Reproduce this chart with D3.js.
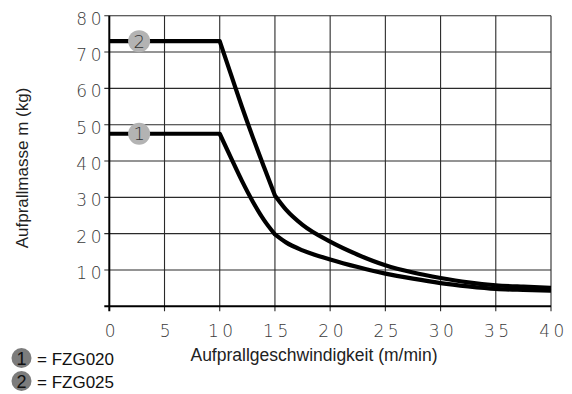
<!DOCTYPE html>
<html>
<head>
<meta charset="utf-8">
<script src="https://cdn.jsdelivr.net/npm/d3@7"></script>
<style>
  html, body { margin: 0; padding: 0; background: #fff; }
  svg { display: block; }
</style>
</head>
<body>
<svg id="chart" width="572" height="394"></svg>
<script>
// ---- data ----
const speed   = [0, 10, 11, 12, 13, 14, 15, 16, 17.5, 20, 22.5, 25, 27.5, 30, 32.5, 35, 37.5, 40];
const fzg020  = [47.5, 47.5, 41.0, 34.6, 28.8, 23.8, 19.8, 17.6, 15.4, 12.9, 10.8, 9.0, 7.6, 6.4, 5.5, 4.8, 4.5, 4.3];
const fzg025  = [73, 73, 64.0, 55.0, 46.5, 38.4, 30.5, 26.6, 22.4, 17.8, 14.2, 11.3, 9.3, 7.8, 6.6, 5.8, 5.4, 5.1];
const seriesNames = ["FZG020", "FZG025"];
const seriesIds = ["1", "2"];
const breakpoints = [10, 15];
const xTicks = [0, 5, 10, 15, 20, 25, 30, 35, 40];
const yTicks = [10, 20, 30, 40, 50, 60, 70, 80];
const yGrid = [0, 10, 20, 30, 40, 50, 60, 70, 80];
const markerX = 2.7;
const xTitle = "Aufprallgeschwindigkeit (m/min)";
const yTitle = "Aufprallmasse m (kg)";

const svg = d3.select("#chart");
const x = d3.scaleLinear().domain([0, 40]).range([109.3, 551]);
const y = d3.scaleLinear().domain([0, 80]).range([306.3, 15.7]);

// grid
const g = svg.append("g");
g.selectAll("line.h").data(yGrid.slice(1)).join("line")
  .attr("x1", x(0) - 5).attr("x2", x(40))
  .attr("y1", d => y(d)).attr("y2", d => y(d))
  .attr("stroke", "#2a2a2a").attr("stroke-width", 1.1);
g.selectAll("line.v").data(xTicks.slice(1)).join("line")
  .attr("x1", d => x(d)).attr("x2", d => x(d))
  .attr("y1", y(80)).attr("y2", y(0) + 5)
  .attr("stroke", "#2a2a2a").attr("stroke-width", 1.1);

// axes (thicker)
g.append("line").attr("x1", x(0)).attr("x2", x(0)).attr("y1", y(80)).attr("y2", y(0) + 5)
  .attr("stroke", "#000").attr("stroke-width", 2);
g.append("line").attr("x1", x(0) - 5).attr("x2", x(40)).attr("y1", y(0)).attr("y2", y(0))
  .attr("stroke", "#000").attr("stroke-width", 2);

// tick labels
const tickFont = "'DejaVu Sans ExtraLight', 'DejaVu Sans'";
svg.append("g").selectAll("text").data(yTicks).join("text")
  .attr("x", 105).attr("y", d => y(d) + 9)
  .attr("text-anchor", "end")
  .attr("font-family", tickFont).attr("font-weight", 300).attr("font-size", 17)
  .attr("letter-spacing", 3.5).attr("fill", "#3a3a3a")
  .text(d => d);
svg.append("g").selectAll("text").data(xTicks).join("text")
  .attr("x", d => x(d) + 2.5).attr("y", 337)
  .attr("text-anchor", "middle")
  .attr("font-family", tickFont).attr("font-weight", 300).attr("font-size", 17)
  .attr("letter-spacing", 3.5).attr("fill", "#3a3a3a")
  .text(d => d);

// titles
svg.append("text").attr("x", 314).attr("y", 361)
  .attr("text-anchor", "middle").attr("font-family", "Liberation Sans")
  .attr("font-size", 17.5).attr("fill", "#222").text(xTitle);
svg.append("text").attr("transform", "translate(28,168) rotate(-90)")
  .attr("text-anchor", "middle").attr("font-family", "Liberation Sans")
  .attr("font-size", 17).attr("fill", "#222").text(yTitle);

// curves
function segments(vals) {
  const pts = speed.map((s, i) => [s, vals[i]]);
  const a = pts.filter(p => p[0] <= breakpoints[0]);
  const b = pts.filter(p => p[0] >= breakpoints[0] && p[0] <= breakpoints[1]);
  const c = pts.filter(p => p[0] >= breakpoints[1]);
  return [a, b, c];
}
const lineMono = d3.line().x(d => x(d[0])).y(d => y(d[1])).curve(d3.curveMonotoneX);
const lineLin = d3.line().x(d => x(d[0])).y(d => y(d[1]));
[fzg020, fzg025].forEach(vals => {
  const [a, b, c] = segments(vals);
  const path = lineLin(a) + lineMono(b).replace(/^M/, "L") + lineMono(c).replace(/^M/, "L");
  svg.append("path").attr("d", path).attr("fill", "none")
    .attr("stroke", "#000").attr("stroke-width", 4.2)
    .attr("stroke-linejoin", "round");
});

// markers on chart
[fzg020, fzg025].forEach((vals, i) => {
  const mg = svg.append("g").attr("transform", `translate(${x(markerX)},${y(vals[0])})`);
  mg.append("circle").attr("r", 11).attr("fill", "#b3b3b3");
  mg.append("text").attr("y", 6.5).attr("text-anchor", "middle")
    .attr("font-family", tickFont).attr("font-weight", 300).attr("font-size", 18).attr("fill", "#333")
    .text(seriesIds[i]);
});

// legend
seriesNames.forEach((name, i) => {
  const cy = 358 + i * 23;
  svg.append("circle").attr("cx", 21.5).attr("cy", cy).attr("r", 10).attr("fill", "#7c7c7c");
  svg.append("text").attr("x", 21.5).attr("y", cy + 6.5).attr("text-anchor", "middle")
    .attr("font-family", "Liberation Sans").attr("font-size", 18).attr("fill", "#111")
    .text(seriesIds[i]);
  svg.append("text").attr("x", 37).attr("y", cy + 6.5)
    .attr("font-family", "Liberation Sans").attr("font-size", 17).attr("fill", "#111")
    .text("= " + name);
});
</script>
</body>
</html>
